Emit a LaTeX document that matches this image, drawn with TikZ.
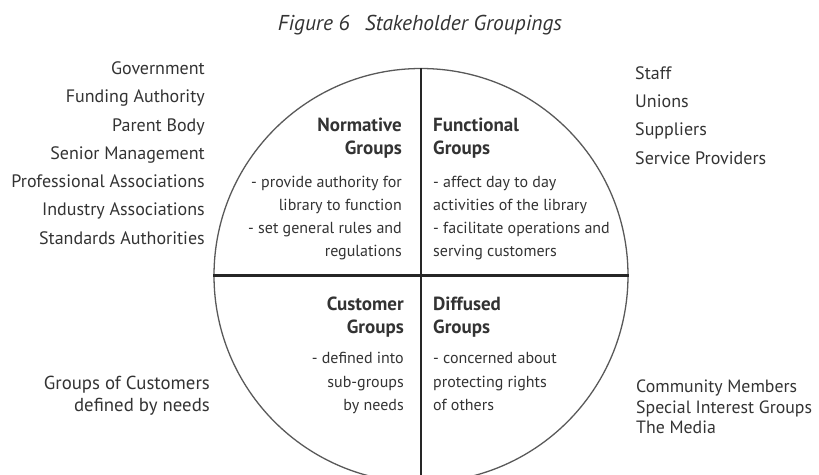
\documentclass[tikz,border=0pt]{standalone}
\usepackage{fontspec}
\setmainfont{PT Sans}
\usepackage{tikz}
\usetikzlibrary{positioning}

\newcommand{\grphead}[1]{{\fontsize{19}{22}\selectfont\bfseries #1}}

\begin{document}
\begin{tikzpicture}[x=1pt,y=-1pt,
ink/.style={text=black!80},
outer/.style={ink,inner sep=0pt,font=\fontsize{18}{28.3}\selectfont},
quad/.style={ink,inner sep=0pt,font=\fontsize{16}{23.3}\selectfont},
rim/.style={draw=black!65,line width=1.3pt},
divider/.style={draw=black!85,line width=2.6pt}]
\useasboundingbox (0,0) rectangle (819,474);
\node[ink,font=\itshape\fontsize{21.5}{22}\selectfont] (title) at (420,25) {Figure 6\hspace{0.7em}Stakeholder Groupings};
% the circle and its two dividers
\node[circle,rim,minimum size=414pt,inner sep=0pt] (ring) at (421,275.5) {};
\coordinate (c) at (ring.center);
\draw[divider] (ring.north) -- (ring.south);
\draw[divider] (ring.west) -- (ring.east);
% the four quadrants
\node[quad,align=right,above left=15pt and 19pt of c] (normative)
  {\grphead{Normative}\\\grphead{Groups}\\[9pt]- provide authority for\\library to function\\- set general rules and\\regulations};
\node[quad,align=left,above right=15pt and 12pt of c] (functional)
  {\grphead{Functional}\\\grphead{Groups}\\[9pt]- affect day to day\\activities of the library\\- facilitate operations and\\serving customers};
\node[quad,align=right,below left=21pt and 17pt of c] (customer)
  {\grphead{Customer}\\\grphead{Groups}\\[7pt]- defined into\\sub-groups\\by needs};
\node[quad,align=left,below right=21pt and 12pt of c] (diffused)
  {\grphead{Diffused}\\\grphead{Groups}\\[7pt]- concerned about\\protecting rights\\of others};
% stakeholders outside the circle
\node[outer,align=right,anchor=east] (normlist) at (205,153)
  {Government\\Funding Authority\\Parent Body\\Senior Management\\Professional Associations\\Industry Associations\\Standards Authorities};
\node[outer,align=left,anchor=west] (funclist) at (635,115.5)
  {Staff\\Unions\\Suppliers\\Service Providers};
\node[outer,align=right,anchor=east,font=\fontsize{18.8}{22}\selectfont] (custlist) at (210,396)
  {Groups of Customers\\defined by needs};
\node[outer,align=left,anchor=west,font=\fontsize{17.8}{20.5}\selectfont] (difflist) at (636,407)
  {Community Members\\Special Interest Groups\\The Media};
\end{tikzpicture}
\end{document}
